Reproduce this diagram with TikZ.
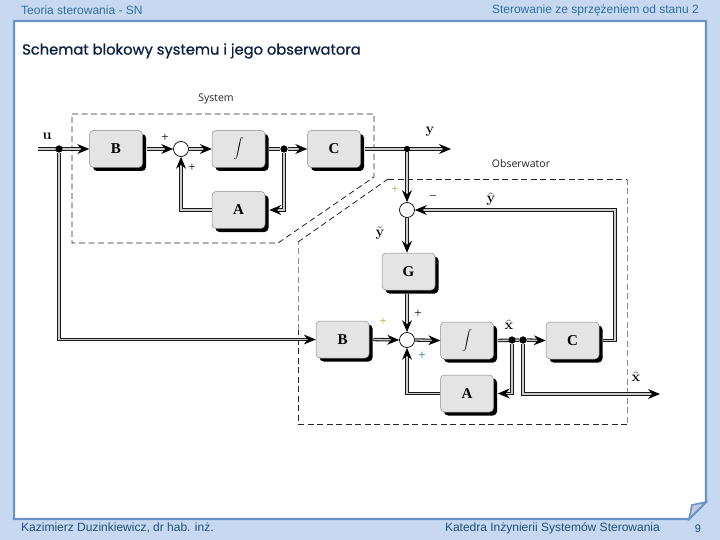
\documentclass[tikz,border=0pt]{standalone}
\usepackage[no-math]{fontspec}
\setmainfont{Liberation Sans}
\newfontfamily\titlef[FakeBold=0.7]{Poppins}
\newfontfamily\labelf{Open Sans}
\newfontfamily\blockf{Liberation Serif}[BoldFont={Liberation Serif Bold}]
\usetikzlibrary{arrows.meta,shadows,positioning}
\definecolor{bgblue}{HTML}{C6D9F1}
\definecolor{edgeblue}{HTML}{6A93C8}
\definecolor{headblue}{HTML}{2F6E9F}
\definecolor{footblue}{HTML}{1F4E79}
\definecolor{titlenavy}{HTML}{0B1F45}
\definecolor{foldgray}{HTML}{C3CBDD}
\definecolor{blockgray}{HTML}{E4E4E4}
\tikzset{
  blockbox/.style={draw=black!45,line width=0.5pt,fill=blockgray,rounded corners=4pt,
    minimum width=#1,minimum height=37pt,inner sep=0pt,
    font=\blockf\bfseries\fontsize{15}{15}\selectfont,
    general shadow={fill=black,shadow xshift=3.5pt,shadow yshift=-3.5pt}},
  blockbox/.default=53pt,
  sumnode/.style={circle,draw=black,line width=0.7pt,fill=white,minimum size=15pt,inner sep=0pt},
  dotnode/.style={circle,fill=black,minimum size=7pt,inner sep=0pt},
  wire/.style={draw=black!90,line width=1.05pt,double=black!20,double distance=1.3pt},
  tipwire/.style={-{Stealth[length=12pt,width=10pt,inset=4pt,color=black,line width=0pt]}},
  dashbox/.style={line width=0.8pt,dash pattern=on 6pt off 3.5pt,draw=black!85},
  dashgray/.style={line width=0.8pt,dash pattern=on 6pt off 3.5pt,draw=black!45},
  sign/.style={font=\blockf\fontsize{13}{13}\selectfont,inner sep=0pt},
  sym/.style={font=\fontsize{14}{14}\selectfont,inner sep=0pt},
  caption/.style={font=\labelf\fontsize{10.5}{12}\selectfont,inner sep=0pt,text=black!85},
  head/.style={font=\fontsize{12}{14}\selectfont,inner sep=0pt,text=headblue},
  foot/.style={font=\fontsize{12}{14}\selectfont,inner sep=0pt,text=footblue},
}
\begin{document}
\begin{tikzpicture}[x=1pt,y=-1pt]
\useasboundingbox (0,0) rectangle (720,540);
% slide
\fill[bgblue] (0,0) rectangle (720,540);
\filldraw[fill=white,draw=edgeblue,line width=2.2pt] (14,21) -- (706,21) -- (706,502) -- (689,519) -- (14,519) -- cycle;
\filldraw[fill=foldgray,draw=edgeblue,line width=1.6pt] (706,502) -- (692,505) -- (689,519) -- cycle;
% header/footer
\node[head,anchor=west] (h1) at (21,10) {Teoria sterowania - SN};
\node[head,anchor=east] (h2) at (699,10) {Sterowanie ze sprzężeniem od stanu 2};
\node[foot,anchor=west] (f1) at (21,528) {Kazimierz Duzinkiewicz, dr hab. inż.};
\node[foot,anchor=east] (f2) at (660,528) {Katedra Inżynierii Systemów Sterowania};
\node[foot,font=\fontsize{11}{13}\selectfont] (f3) at (698,529) {9};
\node[anchor=west,inner sep=0pt,text=titlenavy,font=\titlef\fontsize{14.7}{18}\selectfont] (title) at (22,51) {Schemat blokowy systemu i jego obserwatora};
\node[caption] (capS) at (216,99) {System};
\node[caption] (capO) at (521,164) {Obserwator};
% dashed frames
\draw[dashbox] (72,114) -- (374,114) -- (374,177) -- (278,243) -- (72,243) -- cycle;
\draw[dashbox] (388,179) -- (627,179);
\draw[dashgray] (627,179) -- (627,424);
\draw[dashbox] (627,424) -- (298,424) -- (298,330);
\draw[dashgray] (298,330) -- (298,242);
\draw[dashbox] (298,242) -- (388,179);
% system blocks
\node[blockbox] (Bs) at (116,149) {B};
\node[blockbox] (Is) at (238.5,149) {$\displaystyle\int$};
\node[blockbox] (Cs) at (334,149) {C};
\node[blockbox] (As) at (238.5,210) {A};
\node[sumnode] (Ss) at (181,149) {};
\node[dotnode] (ju) at (59,149) {};
\node[dotnode] (jx) at (284,149) {};
\node[dotnode,minimum size=6pt] (jy) at (407,149) {};
\coordinate (uin) at (38,149);
\coordinate (yout) at (451,149);
% observer blocks
\node[sumnode] (S1) at (407,210) {};
\node[blockbox] (G) at (408.5,271.5) {G};
\node[blockbox] (Bo) at (342.5,339.5) {B};
\node[sumnode] (S2) at (407,340) {};
\node[blockbox] (Io) at (467,340.5) {$\displaystyle\int$};
\node[blockbox] (Co) at (572.5,340.5) {C};
\node[blockbox] (Ao) at (467,393.5) {A};
\node[dotnode] (jh1) at (512,340) {};
\node[dotnode] (jh2) at (523,340) {};
\coordinate (xout) at (660,394);
% system wires
\draw[wire,tipwire] (uin) -- (Bs.west);
\draw[wire,tipwire] ([xshift=4pt]Bs.east) -- (Ss.west);
\draw[wire,tipwire] (Ss.east) -- (Is.west);
\draw[wire] ([xshift=4pt]Is.east) -- (jx);
\draw[wire,tipwire] (jx) -- (Cs.west);
\draw[wire,tipwire] ([xshift=4pt]Cs.east) -- (yout);
\draw[wire,tipwire] (jx) |- ([xshift=4pt]As.east);
\draw[wire,tipwire] (As.west) -| (Ss.south);
% link
\draw[wire,tipwire] (ju) |- (Bo.west);
\draw[wire,tipwire] (jy) -- (S1.north);
% observer wires
\draw[wire,tipwire] (S1.south) -- (S1|-G.north);
\draw[wire,tipwire] (S2|-G.south) ++(0,4) -- (S2.north);
\draw[wire,tipwire] ([xshift=4pt]Bo.east) -- (S2.west);
\draw[wire,tipwire] (S2.east) -- (Io.west);
\draw[wire] ([xshift=4pt]Io.east) -- (jh2);
\draw[wire,tipwire] (jh2) -- (Co.west);
\draw[wire,tipwire] (jh1) |- ([xshift=4pt]Ao.east);
\draw[wire,tipwire] (Ao.west) -| (S2.south);
\draw[wire,tipwire] (jh2) |- (xout);
\draw[wire,tipwire] ([xshift=4pt]Co.east) -| (615,210) -- (S1.east);
% redraw dots on top
\fill[black] (ju) circle (3.5pt) (jx) circle (3.5pt) (jy) circle (3pt) (jh1) circle (3.5pt) (jh2) circle (3.5pt);
% signs
\node[sign] (p1) at (165,138) {+};
\node[sign] (p2) at (192,168) {+};
\node[sign,text=olive!70] (p3) at (395,190) {+};
\node[sign] (p4) at (433,198) {−};
\node[sign] (p5) at (418,314) {+};
\node[sign,text=olive!70] (p6) at (383,322) {+};
\node[sign,text=teal] (p7) at (422,356) {+};
% symbols
\node[sym] (su) at (47,136) {$\mathbf{u}$};
\node[sym] (sy) at (430,132) {$\mathbf{y}$};
\node[sym] (syt) at (380,233) {$\tilde{\mathbf{y}}$};
\node[sym] (syh) at (491,199) {$\widehat{\mathbf{y}}$};
\node[sym] (sx1) at (509,325) {$\widehat{\mathbf{x}}$};
\node[sym] (sx2) at (636,377) {$\widehat{\mathbf{x}}$};
\end{tikzpicture}
\end{document}
